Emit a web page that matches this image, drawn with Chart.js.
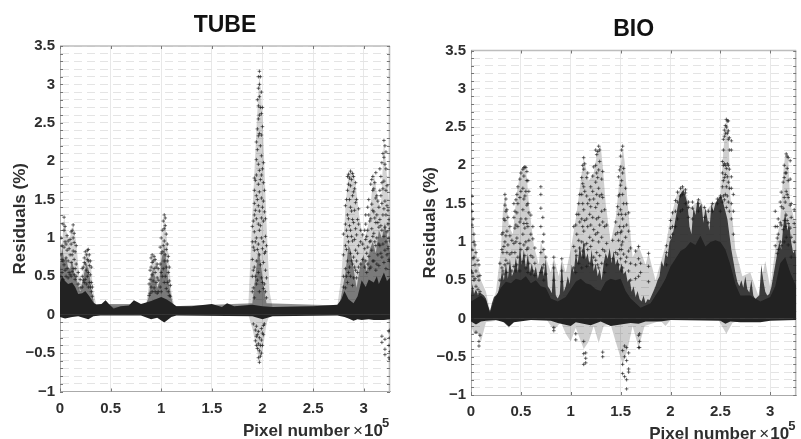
<!DOCTYPE html>
<html>
<head>
<meta charset="utf-8">
<script src="https://cdn.jsdelivr.net/npm/chart.js@4"></script>
<style>
    html, body { margin: 0; padding: 0; background: #fff; overflow: hidden; }
    .panel { position: absolute; top: 0; height: 439px; }
    #tubePanel { left: 0; width: 400px; }
    #bioPanel { left: 411px; width: 390px; }
</style>
</head>
<body>
<div class="panel" id="tubePanel"><canvas id="tubeChart"></canvas></div>
<div class="panel" id="bioPanel"><canvas id="bioChart"></canvas></div>
<script>
// values, x is in units of 1e5 pixels
const xTicks = [0, 0.5, 1, 1.5, 2, 2.5, 3];

// TUBE: solid band
const tubeCoreX = [0, 0.02, 0.05, 0.08, 0.12, 0.15, 0.18, 0.22, 0.25, 0.29, 0.33, 0.36, 0.41, 0.45, 0.49, 0.53, 0.6, 0.68, 0.73, 0.8, 0.9, 1.0, 1.05, 1.1, 1.15, 1.3, 1.5, 1.6, 1.65, 1.72, 1.9, 2.0, 2.1, 2.5, 2.74, 2.78, 2.81, 2.85, 2.9, 2.94, 2.98, 3.02, 3.05, 3.1, 3.13, 3.15, 3.2, 3.23, 3.26];
const tubeCoreHigh = [0.42, 0.5, 0.44, 0.4, 0.42, 0.36, 0.27, 0.28, 0.31, 0.24, 0.16, 0.13, 0.14, 0.19, 0.13, 0.08, 0.11, 0.12, 0.19, 0.14, 0.18, 0.23, 0.2, 0.16, 0.11, 0.11, 0.14, 0.1, 0.15, 0.11, 0.13, 0.11, 0.1, 0.11, 0.13, 0.2, 0.31, 0.2, 0.15, 0.24, 0.45, 0.36, 0.46, 0.42, 0.5, 0.4, 0.55, 0.44, 0.48];
const tubeCoreLowX = [0, 0.05, 0.12, 0.18, 0.28, 0.33, 0.4, 0.8, 0.9, 0.96, 1.03, 1.1, 1.15, 1.9, 2.0, 2.1, 2.74, 2.81, 2.85, 2.9, 2.94, 2.98, 3.05, 3.1, 3.2, 3.26];
const tubeCoreLow = [-0.03, -0.05, -0.03, -0.02, -0.06, -0.02, -0.01, -0.01, -0.06, -0.04, -0.1, -0.03, -0.01, -0.02, -0.06, -0.02, -0.01, -0.03, -0.05, -0.08, -0.06, -0.07, -0.06, -0.07, -0.07, -0.06];

// TUBE: darker part of the clouds
const tubeDenseX = [0, 0.02, 0.04, 0.06, 0.08, 0.1, 0.12, 0.14, 0.16, 0.18, 0.2, 0.22, 0.24, 0.26, 0.28, 0.3, 0.32, 0.34, 0.85, 0.88, 0.9, 0.92, 0.94, 0.96, 0.98, 1.0, 1.03, 1.05, 1.07, 1.1, 1.12, 1.9, 1.93, 1.96, 1.98, 2.01, 2.04, 2.76, 2.79, 2.82, 2.85, 2.87, 2.9, 2.93, 2.96, 3.0, 3.03, 3.06, 3.09, 3.12, 3.15, 3.18, 3.21, 3.24, 3.26];
const tubeDenseHigh = [0.6, 0.9, 0.72, 0.75, 0.62, 0.6, 0.72, 0.55, 0.48, 0.38, 0.3, 0.42, 0.55, 0.66, 0.6, 0.45, 0.24, 0.14, 0.14, 0.24, 0.52, 0.6, 0.48, 0.35, 0.42, 0.7, 0.9, 0.7, 0.45, 0.22, 0.11, 0.15, 0.5, 0.85, 0.7, 0.4, 0.15, 0.12, 0.33, 0.55, 0.9, 0.85, 0.6, 0.35, 0.6, 0.78, 0.55, 0.85, 0.95, 0.8, 1.1, 1.0, 1.2, 0.95, 0.8];

// TUBE: outline of the loose clouds
const tubeCloudX = [0, 0.02, 0.04, 0.06, 0.08, 0.1, 0.13, 0.16, 0.19, 0.21, 0.24, 0.27, 0.3, 0.33, 0.36, 0.85, 0.88, 0.92, 0.95, 0.98, 1.03, 1.07, 1.1, 1.13, 1.86, 1.9, 1.94, 1.97, 2.0, 2.04, 2.07, 2.1, 2.74, 2.78, 2.82, 2.85, 2.87, 2.9, 2.92, 2.96, 3.0, 3.05, 3.1, 3.14, 3.17, 3.2, 3.23, 3.26];
const tubeCloudHigh = [0.4, 0.9, 1.27, 1.1, 1.0, 1.02, 1.17, 0.95, 0.5, 0.4, 0.7, 0.85, 0.7, 0.3, 0.12, 0.12, 0.4, 0.78, 0.7, 0.6, 1.3, 0.8, 0.3, 0.1, 0.1, 1.3, 2.4, 3.17, 2.6, 1.2, 0.3, 0.1, 0.12, 0.5, 1.4, 1.84, 1.87, 1.85, 1.7, 1.25, 0.95, 1.2, 1.85, 1.5, 1.4, 2.27, 1.8, 1.2];
const tubeCloudLowX = [1.86, 1.9, 1.94, 1.97, 2.0, 2.04, 2.07];
const tubeCloudLow = [0, -0.18, -0.42, -0.63, -0.48, -0.12, 0];

// TUBE: single markers, one list of residuals per x position
const tubeMarkX = [0.01, 0.02, 0.03, 0.04, 0.05, 0.06, 0.07, 0.08, 0.09, 0.1, 0.11, 0.12, 0.13, 0.14, 0.15, 0.16, 0.18, 0.2, 0.22, 0.23, 0.24, 0.25, 0.26, 0.27, 0.28, 0.29, 0.3, 0.31, 0.32,
    0.88, 0.89, 0.9, 0.91, 0.92, 0.93, 0.94, 0.95, 0.96, 0.97, 0.99, 1.0, 1.01, 1.02, 1.03, 1.04, 1.05, 1.06, 1.07, 1.08, 1.09,
    1.9, 1.91, 1.92, 1.93, 1.94, 1.95, 1.96, 1.97, 1.98, 1.99, 2.0, 2.01, 2.02, 2.03, 2.04,
    2.8, 2.82, 2.83, 2.84, 2.85, 2.86, 2.87, 2.88, 2.89, 2.9, 2.91, 2.92, 2.93, 2.94, 2.95, 2.97, 2.99, 3.01, 3.02, 3.03, 3.04, 3.05, 3.06, 3.07, 3.08, 3.09, 3.1, 3.11, 3.12, 3.13, 3.14, 3.15, 3.16, 3.17, 3.18, 3.19, 3.2, 3.21, 3.22, 3.23, 3.24, 3.25, 3.26,
    3.18, 3.21, 3.25, 3.26];
const tubeMarkY = [
    [0.5, 0.78, 1.0], [0.55, 0.72, 0.9], [0.46, 0.7, 1.18], [0.65, 0.88, 1.1, 1.27], [0.58, 0.95, 1.15], [0.5, 0.74, 0.92], [0.6, 0.84, 1.03], [0.48, 0.7, 0.96], [0.55, 0.86], [0.52, 0.78, 0.98], [0.5, 0.68, 0.92, 1.08], [0.56, 0.78, 1.1], [0.6, 0.83, 1.0, 1.17], [0.52, 0.72, 0.94, 1.06], [0.46, 0.6, 0.82], [0.5, 0.66, 0.9], [0.4, 0.55], [0.35, 0.46], [0.36, 0.5, 0.6], [0.45, 0.62], [0.42, 0.68, 0.74], [0.46, 0.66, 0.82], [0.4, 0.58, 0.78], [0.5, 0.72, 0.84], [0.36, 0.55, 0.7, 0.85], [0.42, 0.64, 0.78], [0.36, 0.52, 0.7], [0.3, 0.42, 0.62], [0.24, 0.36],
    [0.25, 0.4], [0.28, 0.46, 0.58], [0.36, 0.62, 0.74], [0.3, 0.52, 0.68, 0.78], [0.44, 0.7], [0.35, 0.6, 0.76], [0.3, 0.55, 0.72], [0.42, 0.62], [0.28, 0.48, 0.66], [0.3, 0.45, 0.6], [0.36, 0.66, 0.88], [0.3, 0.55, 0.8, 1.0], [0.5, 0.82, 1.1], [0.6, 0.9, 1.22], [0.42, 0.7, 0.96, 1.12, 1.3], [0.5, 0.78, 1.16, 1.26], [0.34, 0.62, 0.85, 1.05], [0.42, 0.7, 0.92], [0.3, 0.55, 0.76], [0.25, 0.44, 0.62], [0.24, 0.38],
    [0.3, 0.5, 0.72, 0.95, 1.15], [0.35, 0.58, 0.88, 1.22, -0.12], [0.22, 0.62, 0.84, 1.08, 1.3, 1.45, 1.62, 1.78], [0.5, 0.95, 1.36, 1.75, -0.2, -0.34], [0.4, 0.7, 1.0, 1.25, 1.55, 1.82, 2.02, 2.25, -0.15, -0.28, -0.4], [0.45, 0.85, 1.5, 2.15, 2.42, 2.8, -0.26, -0.44], [0.55, 0.92, 1.18, 1.42, 1.7, 1.96, 2.33, 2.55, 2.72, 2.95, 3.1, -0.22, -0.38, -0.56], [0.3, 0.78, 1.1, 1.35, 1.6, 1.88, 2.36, 2.6, 2.84, 3.0, 3.17, -0.3, -0.47, -0.62], [0.65, 1.16, 1.76, 2.2, 2.7, 3.1, -0.4, -0.54], [0.48, 1.0, 1.26, 1.52, 1.82, 2.07, 2.34, 2.62, 2.9, -0.18, -0.33, -0.5], [0.42, 0.86, 1.4, 1.9, 2.45, 2.7, -0.24, -0.4], [0.34, 0.68, 0.95, 1.22, 1.48, 1.72, 1.98, -0.14, -0.26], [0.4, 0.8, 1.34, 1.62, -0.12], [0.3, 0.58, 0.82, 1.02, 1.25], [0.22, 0.48, 0.9],
    [0.36, 0.5, 0.78, 1.05], [0.35, 0.6, 0.9, 1.18, 1.42], [0.5, 0.85, 1.1, 1.5], [0.42, 0.7, 1.02, 1.3, 1.62, 1.8], [0.55, 0.95, 1.25, 1.7, 1.83], [0.62, 1.16, 1.5, 1.78], [0.5, 0.8, 1.1, 1.4, 1.68, 1.87], [0.7, 1.02, 1.35, 1.76], [0.38, 0.66, 0.96, 1.24, 1.55, 1.84], [0.48, 0.75, 1.2, 1.6, 1.8], [0.62, 0.98, 1.36, 1.64], [0.58, 0.84, 1.12, 1.46, 1.72], [0.48, 0.7, 1.04, 1.5], [0.55, 0.8, 1.24], [0.62, 0.9, 1.18, 1.38], [0.66, 0.95, 1.1], [0.72, 0.92, 1.04], [0.62, 0.86, 1.1], [0.7, 0.98, 1.18, 1.3], [0.55, 0.8, 1.02], [0.66, 0.88, 1.1, 1.4], [0.76, 1.3, 1.5], [0.6, 0.95, 1.22], [0.62, 0.96, 1.25, 1.7], [0.84, 1.12, 1.44, 1.76], [0.7, 1.02, 1.36, 1.62, 1.8], [0.7, 1.06, 1.34, 1.64], [0.95, 1.26, 1.72], [0.58, 0.9, 1.2, 1.52, 1.85], [0.66, 1, 1.3, 1.55], [0.78, 1.2, 1.48], [0.64, 0.92, 1.14, 1.4], [0.9, 1.24, 1.62, 1.9], [0.8, 1.16, 1.55, 1.8], [0.75, 1.1, 1.45, 1.72, 1.98], [0.92, 1.3, 1.64, 2.1], [0.68, 1.02, 1.38, 1.74, 2.05, 2.27], [0.84, 1.14, 1.48, 1.96, 2.2], [0.6, 0.95, 1.3, 1.62, 1.9, 2.12], [0.78, 1.08, 1.42, 1.68], [0.86, 1.18, 1.36], [0.72, 1.0, 1.24], [0.7, 0.96, 1.12],
    [-0.28, -0.36], [-0.32, -0.45, -0.52], [-0.22, -0.4, -0.56], [-0.2, -0.3, -0.48, -0.58]
];

// BIO: solid band
const bioCoreX = [0, 0.05, 0.1, 0.15, 0.19, 0.24, 0.3, 0.35, 0.4, 0.45, 0.5, 0.55, 0.6, 0.65, 0.7, 0.75, 0.8, 0.87, 0.95, 1.0, 1.05, 1.1, 1.15, 1.2, 1.25, 1.3, 1.35, 1.4, 1.45, 1.5, 1.55, 1.6, 1.7, 1.8, 1.9, 1.95, 2.0, 2.05, 2.1, 2.15, 2.2, 2.25, 2.3, 2.35, 2.4, 2.45, 2.5, 2.55, 2.6, 2.65, 2.7, 2.8, 2.9, 3.0, 3.05, 3.1, 3.15, 3.2, 3.26];
const bioCoreHigh = [0.22, 0.26, 0.3, 0.24, 0.07, 0.27, 0.4, 0.48, 0.46, 0.52, 0.5, 0.55, 0.46, 0.5, 0.42, 0.4, 0.26, 0.22, 0.28, 0.38, 0.48, 0.52, 0.46, 0.44, 0.38, 0.36, 0.48, 0.52, 0.5, 0.52, 0.36, 0.26, 0.14, 0.2, 0.4, 0.52, 0.68, 0.78, 0.88, 0.92, 1.0, 0.96, 1.08, 0.94, 1.0, 1.02, 1.0, 0.9, 0.7, 0.45, 0.3, 0.3, 0.22, 0.28, 0.42, 0.72, 0.8, 0.6, 0.42];
const bioCoreLowX = [0, 0.05, 0.1, 0.15, 0.25, 0.33, 0.38, 0.43, 0.6, 0.8, 0.87, 1.0, 1.05, 1.2, 1.3, 1.4, 1.5, 1.6, 1.68, 1.75, 1.9, 2.0, 2.5, 2.55, 2.6, 2.7, 2.8, 2.9, 3.0, 3.26];
const bioCoreLow = [-0.04, -0.08, -0.04, -0.03, -0.02, -0.05, -0.11, -0.05, -0.02, -0.03, -0.06, -0.1, -0.05, -0.09, -0.04, -0.1, -0.08, -0.06, -0.07, -0.04, -0.04, -0.02, -0.03, -0.07, -0.04, -0.05, -0.05, -0.05, -0.03, -0.02];

// BIO: darker part of the clouds
const bioDenseX = [0, 0.015, 0.03, 0.05, 0.07, 0.09, 0.11, 0.13, 0.15, 0.17, 0.19, 0.21, 0.23, 0.25, 0.27, 0.29, 0.31, 0.33, 0.35, 0.37, 0.39, 0.41, 0.43, 0.45, 0.47, 0.49, 0.51, 0.53, 0.55, 0.57, 0.59, 0.61, 0.63, 0.65, 0.67, 0.69, 0.71, 0.73, 0.75, 0.77, 0.79, 0.81, 0.83, 0.85, 0.87, 0.89, 0.91, 0.93, 0.95, 0.97, 0.99, 1.01, 1.03, 1.05, 1.07, 1.09, 1.11, 1.13, 1.15, 1.17, 1.19, 1.21, 1.23, 1.25, 1.27, 1.29, 1.31, 1.33, 1.35, 1.37, 1.39, 1.41, 1.43, 1.45, 1.47, 1.49, 1.51, 1.53, 1.55, 1.57, 1.59, 1.61, 1.63, 1.65, 1.67, 1.69, 1.71, 1.73, 1.75, 1.77, 1.79, 1.81, 1.83, 1.85, 1.87, 1.89, 1.91, 1.93, 1.95, 1.97, 1.99, 2.01, 2.03, 2.05, 2.07, 2.09, 2.11, 2.13, 2.15, 2.17, 2.19, 2.21, 2.23, 2.25, 2.27, 2.29, 2.31, 2.33, 2.35, 2.37, 2.39, 2.41, 2.43, 2.45, 2.47, 2.49, 2.51, 2.53, 2.55, 2.57, 2.59, 2.61, 2.63, 2.65, 2.67, 2.69, 2.71, 2.73, 2.75, 2.77, 2.79, 2.81, 2.83, 2.85, 2.87, 2.89, 2.91, 2.93, 2.95, 2.97, 2.99, 3.01, 3.03, 3.05, 3.07, 3.09, 3.11, 3.13, 3.15, 3.17, 3.19, 3.21, 3.23, 3.25, 3.26];
const bioDenseHigh = [0.3, 0.45, 0.32, 0.38, 0.3, 0.34, 0.32, 0.3, 0.26, 0.17, 0.09, 0.2, 0.28, 0.3, 0.33, 0.44, 0.62, 0.5, 0.72, 0.52, 0.78, 0.55, 0.62, 0.8, 0.6, 0.95, 0.7, 0.9, 0.65, 0.85, 0.6, 0.72, 0.58, 0.68, 0.52, 0.62, 0.7, 0.55, 0.78, 0.42, 0.38, 0.33, 0.75, 0.3, 0.26, 0.32, 0.74, 0.35, 0.42, 0.55, 0.45, 0.7, 0.6, 0.85, 0.72, 0.95, 0.8, 1.02, 0.78, 0.85, 0.68, 0.9, 0.62, 0.72, 0.55, 0.65, 0.5, 0.72, 0.85, 0.78, 0.92, 0.72, 0.88, 0.7, 0.78, 0.62, 0.72, 0.58, 0.62, 0.48, 0.52, 0.35, 0.42, 0.28, 0.36, 0.25, 0.22, 0.3, 0.2, 0.25, 0.24, 0.3, 0.36, 0.42, 0.5, 0.55, 0.75, 0.68, 0.85, 0.8, 1.0, 1.05, 1.15, 1.3, 1.45, 1.6, 1.65, 1.68, 1.6, 1.5, 1.2, 1.1, 1.45, 1.35, 1.55, 1.45, 1.5, 1.25, 1.45, 1.3, 1.15, 1.5, 1.4, 1.5, 1.55, 1.58, 1.6, 1.5, 1.4, 1.3, 1.1, 0.9, 0.75, 0.6, 0.48, 0.42, 0.5, 0.4, 0.55, 0.38, 0.34, 0.5, 0.3, 0.25, 0.28, 0.3, 0.7, 0.5, 0.35, 0.3, 0.32, 0.4, 0.55, 0.7, 0.85, 1.0, 0.9, 1.2, 1.4, 1.15, 1.25, 1.0, 0.85, 0.9, 0.75];

// BIO: outline of the loose clouds
const bioCloudX = [0, 0.03, 0.07, 0.1, 0.15, 0.19, 0.25, 0.3, 0.32, 0.34, 0.36, 0.38, 0.42, 0.44, 0.46, 0.5, 0.54, 0.56, 0.58, 0.63, 0.68, 0.7, 0.75, 0.8, 0.83, 0.88, 0.91, 0.95, 1.0, 1.05, 1.08, 1.13, 1.18, 1.23, 1.27, 1.3, 1.32, 1.35, 1.4, 1.45, 1.48, 1.52, 1.54, 1.57, 1.62, 1.68, 1.75, 1.78, 1.85, 1.95, 2.0, 2.07, 2.13, 2.2, 2.3, 2.35, 2.42, 2.5, 2.53, 2.56, 2.58, 2.6, 2.65, 2.72, 2.8, 2.88, 2.95, 3.0, 3.05, 3.1, 3.13, 3.15, 3.18, 3.2, 3.26];
const bioCloudHigh = [1.6, 1.1, 0.7, 0.5, 0.35, 0.1, 0.35, 0.9, 1.4, 1.62, 1.45, 1.2, 1.1, 1.4, 1.65, 1.95, 1.98, 1.85, 1.5, 0.95, 0.7, 1.0, 0.8, 0.6, 0.8, 0.55, 0.78, 0.6, 0.9, 1.3, 1.6, 2.1, 1.8, 1.9, 2.2, 2.25, 2.0, 1.5, 1.0, 1.3, 1.7, 2.25, 2.05, 1.5, 0.8, 0.95, 0.7, 0.85, 0.5, 0.95, 1.3, 1.65, 1.72, 1.45, 1.55, 1.4, 1.5, 1.55, 2.2, 2.6, 2.5, 1.6, 0.9, 0.55, 0.6, 0.3, 0.75, 0.4, 0.9, 1.3, 1.9, 2.15, 2.1, 1.5, 1.2];
const bioCloudLowX = [0, 0.03, 0.07, 0.1, 0.15, 0.3, 0.38, 0.45, 0.76, 0.83, 0.9, 0.95, 1.0, 1.05, 1.13, 1.18, 1.23, 1.28, 1.33, 1.4, 1.45, 1.52, 1.57, 1.62, 1.68, 1.74, 1.9, 1.95, 2.0, 2.48, 2.56, 2.62, 2.7];
const bioCloudLow = [-0.1, -0.2, -0.2, -0.3, -0.05, -0.02, -0.12, -0.02, -0.02, -0.15, -0.05, -0.2, -0.3, -0.12, -0.4, -0.3, -0.1, -0.32, -0.1, -0.08, -0.3, -0.6, -0.4, -0.1, -0.38, -0.1, -0.03, -0.1, -0.02, -0.02, -0.2, -0.06, -0.02];

// BIO: single markers, one list of residuals per x position
const bioMarkX = [0.005, 0.01, 0.02, 0.03, 0.04, 0.05, 0.07, 0.08, 0.09, 0.29, 0.31, 0.32, 0.33, 0.34, 0.35, 0.36, 0.37, 0.39, 0.41, 0.43, 0.44, 0.45, 0.46, 0.47, 0.49, 0.5, 0.52, 0.53, 0.54, 0.55, 0.56, 0.57, 0.58, 0.6, 0.62, 0.64, 0.7, 0.72, 0.73, 0.75, 0.83, 0.91,
    1.03, 1.05, 1.06, 1.08, 1.09, 1.11, 1.12, 1.13, 1.14, 1.16, 1.17, 1.19, 1.2, 1.22, 1.23, 1.25, 1.26, 1.27, 1.28, 1.29, 1.31, 1.32, 1.34, 1.36, 1.42, 1.45, 1.47, 1.48, 1.49, 1.5, 1.51, 1.52, 1.53, 1.55, 1.56, 1.58, 1.6, 1.65, 1.68, 1.7, 1.78, 1.96,
    2.0, 2.02, 2.05, 2.07, 2.1, 2.12, 2.15, 2.18, 2.22, 2.28, 2.34, 2.38, 2.42, 2.47, 2.5, 2.52, 2.53, 2.54, 2.55, 2.56, 2.57, 2.58, 2.59, 2.61, 2.63,
    3.05, 3.07, 3.08, 3.1, 3.11, 3.13, 3.14, 3.15, 3.16, 3.17, 3.18, 3.2, 3.21, 3.24, 1.51, 1.52, 1.54, 1.56, 1.58, 1.13, 1.15, 1.32, 1.68, 1.69];
const bioMarkY = [
    [0.62, 1.5], [0.6, 0.9, 1.22, 1.4, 1.6], [0.55, 0.78, 1.3], [0.5, 0.8, 1.0, 1.1], [0.52, 0.7, 0.96], [0.42, 0.62, 0.86, -0.18], [0.38, 0.55, 0.76], [0.32, 0.5, 0.7, -0.3, -0.36], [0.35, 0.56, -0.22],
    [0.5, 0.72], [0.66, 0.9, 1.1], [0.62, 0.86, 1.12], [0.58, 0.94, 1.3], [0.7, 1.0, 1.28, 1.48, 1.62], [0.76, 1.08, 1.4, 1.56], [0.6, 0.86, 1.14, 1.42], [0.72, 0.96, 1.32], [0.84, 1.08, 1.2], [0.62, 0.86, 1.02], [0.68, 0.98, 1.32, 1.5], [0.86, 1.18, 1.4], [0.62, 1.0, 1.22, 1.55], [0.7, 1.05, 1.38, 1.62], [0.8, 1.2, 1.5, 1.72], [0.62, 0.98, 1.26, 1.58, 1.82], [0.9, 1.3, 1.66, 1.9], [0.74, 1.1, 1.42, 1.7, 1.95], [0.96, 1.24, 1.56, 1.86, 1.97], [0.82, 1.18, 1.6, 1.98], [0.66, 1.0, 1.3, 1.66, 1.97], [0.9, 1.24, 1.48, 1.8, 1.92], [0.6, 0.92, 1.2, 1.5, 1.8], [0.72, 1.02, 1.38, 1.66], [0.58, 0.82, 1.1, 1.35], [0.62, 0.8, 1.04, 1.2], [0.56, 0.72, 0.92], [0.6, 0.86, 1.2, 1.44, 1.62, 1.72], [0.66, 1.0, 1.32], [0.5, 0.7, 0.9, 1.1], [0.58, 0.8], [0.5, 0.66, 0.8, -0.12, -0.16], [0.48, 0.62, 0.78],
    [0.66, 0.94, 1.2], [0.6, 0.88, 1.22, -0.2, -0.28], [0.82, 1.1, 1.36], [0.72, 1.02, 1.36, 1.5], [0.92, 1.26, 1.62], [0.66, 1.0, 1.3, 1.62, 1.84], [0.88, 1.2, 1.5, 1.76, 2.0], [0.8, 1.14, 1.42, 1.72, 1.95, 2.1], [0.96, 1.28, 1.66, 2.02], [0.68, 0.98, 1.3, 1.6, 1.84], [0.9, 1.2, 1.5, 1.9], [0.72, 1.06, 1.36, 1.55], [0.94, 1.22, 1.46, 1.72], [0.7, 1.02, 1.32, 1.66, 1.86], [0.8, 1.16, 1.56, 1.98], [0.76, 1.1, 1.45, 1.78, 2.0, 2.2], [0.86, 1.3, 1.62, 1.9, 2.14], [0.7, 1.12, 1.5, 1.84, 2.18], [0.66, 1.0, 1.32, 1.7, 1.94, 2.25], [0.82, 1.22, 1.6, 2.05, 2.2], [0.72, 1.06, 1.4, 1.62, 1.82], [0.9, 1.26, 1.58, 1.92], [0.6, 0.88, 1.2, 1.42], [0.7, 0.98, 1.22], [0.78, 1.02], [0.86, 1.1, 1.26], [0.84, 1.12, 1.46], [0.7, 1.02, 1.36, 1.6, 1.85], [0.9, 1.2, 1.62, 1.94], [0.78, 1.12, 1.42, 1.74, 1.98, 2.12], [0.96, 1.36, 1.8, 2.2], [0.66, 1.0, 1.3, 1.62, 1.9, 2.25], [0.84, 1.2, 1.5, 1.96], [0.74, 1.06, 1.36, 1.7], [0.8, 1.22, 1.5], [0.62, 0.88, 1.14, 1.38], [0.5, 0.72, 0.92], [0.52, 0.7, 0.88], [0.55, 0.78, 0.94], [0.6, 0.72], [0.48, 0.68, 0.85], [0.7, 0.86, 0.95],
    [1.06, 1.18, 1.28], [1.1, 1.2, 1.38], [1.2, 1.4, 1.54], [1.3, 1.52, 1.65], [1.4, 1.6, 1.7], [1.42, 1.62, 1.72], [1.5, 1.64, 1.68], [1.32, 1.45, 1.52], [1.3, 1.44, 1.52], [1.4, 1.5, 1.55], [1.32, 1.45], [1.25, 1.4], [1.4, 1.5], [1.5, 1.56], [1.4, 1.58, 1.6],
    [1.52, 1.72, 1.9, 2.05], [1.6, 1.8, 2.0, 2.2, 2.34], [1.55, 1.84, 2.02, 2.38, 2.46], [1.62, 1.88, 2.0, 2.42, 2.52], [1.45, 1.72, 1.96, 2.5, 2.6], [1.6, 1.85, 2.02, 2.42, 2.58], [1.52, 1.78, 2.0, 2.34, 2.45, 2.58], [1.4, 1.7, 1.95, 2.2, 2.36], [1.3, 1.5, 1.7, 1.85, 2.2, 2.32], [1.1, 1.4, 1.62], [0.95, 1.2, 1.4],
    [0.85, 1.05, 1.2], [0.9, 1.1, 1.3], [1.0, 1.25, 1.52], [0.95, 1.22, 1.46, 1.65], [1.16, 1.44, 1.78], [1.0, 1.28, 1.58, 1.84, 2.0], [1.2, 1.52, 1.9], [1.06, 1.35, 1.66, 1.9, 2.15], [1.28, 1.62, 1.96, 2.12], [0.96, 1.24, 1.58, 1.8, 2.1], [1.18, 1.48, 1.82, 2.06], [0.8, 1.06, 1.32, 1.5], [1.0, 1.24, 1.42], [0.62, 0.9, 1.14],
    [-0.42, -0.6, -0.72], [-0.36, -0.5, -0.76], [-0.38, -0.55, -0.8, -0.92], [-0.45, -0.66, -0.7], [-0.3, -0.46, -0.6], [-0.45, -0.52, -0.58], [-0.44, -0.5], [-0.22, -0.38], [-0.2, -0.3, -0.38], [-0.24, -0.34]
];

const inkColor = '#222222';
const labelColor = '#2e2e2e';
const fontFamily = '"Liberation Sans", Arial, sans-serif';

function toPoints(xs, ys) {
    return xs.map((x, i) => ({ x: x, y: ys[i] }));
}

function markPoints(xs, columns) {
    return xs.flatMap((x, i) => columns[i].map(y => ({ x: x, y: y })));
}

function yLabel(value) {
    const doubled = value * 2;
    if (Math.abs(doubled - Math.round(doubled)) > 1e-6) return '';
    const rounded = Math.round(doubled) / 2;
    return rounded < 0 ? '\u2212' + Math.abs(rounded) : String(rounded);
}

// one filled area from the zero line up or down to the read values
function area(label, xs, ys, color, order) {
    return {
        label: label,
        data: toPoints(xs, ys),
        borderWidth: 0,
        pointRadius: 0,
        tension: 0,
        backgroundColor: color,
        fill: { value: 0 },
        order: order
    };
}

// small inward ticks on all four sides, plus the top and right frame
const frameTicks = {
    id: 'frameTicks',
    beforeDatasetsDraw(chart) {
        const { ctx, chartArea, scales } = chart;
        ctx.save();
        ctx.strokeStyle = '#bdbdbd';
        ctx.lineWidth = 1.6;
        ctx.beginPath();
        ctx.moveTo(chartArea.left, chartArea.top);
        ctx.lineTo(chartArea.right, chartArea.top);
        ctx.moveTo(chartArea.right - 0.5, chartArea.top);
        ctx.lineTo(chartArea.right - 0.5, chartArea.bottom);
        ctx.stroke();
        ctx.strokeStyle = '#777777';
        ctx.lineWidth = 1;
        ctx.beginPath();
        scales.y.ticks.forEach(tick => {
            const py = Math.round(scales.y.getPixelForValue(tick.value)) + 0.5;
            ctx.moveTo(chartArea.left, py);
            ctx.lineTo(chartArea.left + 3, py);
            ctx.moveTo(chartArea.right, py);
            ctx.lineTo(chartArea.right - 3, py);
        });
        scales.x.ticks.forEach(tick => {
            const px = Math.round(scales.x.getPixelForValue(tick.value)) + 0.5;
            ctx.moveTo(px, chartArea.top);
            ctx.lineTo(px, chartArea.top + 3);
            ctx.moveTo(px, chartArea.bottom);
            ctx.lineTo(px, chartArea.bottom - 3);
        });
        ctx.stroke();
        ctx.restore();
    }
};

// x label with the raised exponent
const xLabel = {
    id: 'xLabel',
    afterDraw(chart) {
        const { ctx, chartArea } = chart;
        const opts = chart.options.plugins.xLabel;
        ctx.save();
        ctx.fillStyle = labelColor;
        ctx.textBaseline = 'alphabetic';
        ctx.textAlign = 'left';
        ctx.font = 'bold 17px ' + fontFamily;
        ctx.fillText('Pixel number', chartArea.right - 147, opts.baseline);
        ctx.font = '17px ' + fontFamily;
        ctx.fillText('\u00d7', chartArea.right - 37, opts.baseline);
        ctx.font = 'bold 17px ' + fontFamily;
        ctx.fillText('10', chartArea.right - 26, opts.baseline);
        ctx.font = 'bold 13px ' + fontFamily;
        ctx.fillText('5', chartArea.right - 8, opts.baseline - 9);
        ctx.restore();
    }
};

function drawPanel(canvasId, setup) {
    const ctx = document.getElementById(canvasId).getContext('2d');
    return new Chart(ctx, {
        type: 'line',
        data: {
            datasets: [
                area('band high', setup.coreX, setup.coreHigh, inkColor, 2),
                area('band low', setup.coreLowX, setup.coreLow, inkColor, 2),
                area('dense', setup.denseX, setup.denseHigh, setup.denseColor, 3),
                area('cloud high', setup.cloudX, setup.cloudHigh, setup.cloudColor, 4),
                area('cloud low', setup.cloudLowX, setup.cloudLow, setup.cloudColor, 4),
                {
                    label: 'residuals',
                    data: markPoints(setup.markX, setup.markY),
                    showLine: false,
                    pointStyle: 'cross',
                    pointRadius: 1.8,
                    pointBorderWidth: 0.8,
                    pointBorderColor: 'rgba(25, 25, 25, 0.8)',
                    order: 1
                }
            ]
        },
        options: {
            responsive: true,
            maintainAspectRatio: false,
            animation: false,
            layout: { padding: { right: setup.rightPad, left: 0, top: 0, bottom: 0 } },
            plugins: {
                legend: { display: false },
                tooltip: { enabled: false },
                title: {
                    display: true,
                    text: setup.title,
                    fullSize: false,
                    color: '#111111',
                    font: { family: fontFamily, size: 23, weight: 'bold', lineHeight: 1.2 },
                    padding: setup.titlePad
                },
                xLabel: { baseline: setup.xBaseline }
            },
            scales: {
                x: {
                    type: 'linear',
                    min: 0,
                    max: 3.26,
                    afterFit: scale => { scale.height = setup.xHeight; },
                    afterBuildTicks: scale => { scale.ticks = xTicks.map(v => ({ value: v })); },
                    grid: { color: '#e8e8e8', lineWidth: 1, drawTicks: false },
                    border: { color: '#aaaaaa', width: 1 },
                    ticks: {
                        color: labelColor,
                        padding: 8,
                        maxRotation: 0,
                        autoSkip: false,
                        font: { family: fontFamily, size: 15, weight: 'bold' },
                        callback: value => String(value)
                    }
                },
                y: {
                    type: 'linear',
                    min: -1,
                    max: 3.5,
                    afterFit: scale => { scale.width = 60; },
                    grid: { color: '#e4e4e4', lineWidth: 1, drawTicks: false },
                    border: { color: '#aaaaaa', width: 1, dash: [8, 5] },
                    title: {
                        display: true,
                        text: 'Residuals (%)',
                        color: labelColor,
                        font: { family: fontFamily, size: 17, weight: 'bold', lineHeight: 1.2 },
                        padding: { top: setup.yTitlePad, bottom: 0 }
                    },
                    ticks: {
                        stepSize: 0.1,
                        autoSkip: false,
                        color: labelColor,
                        padding: 5,
                        font: { family: fontFamily, size: 15, weight: 'bold' },
                        callback: yLabel
                    }
                }
            }
        },
        plugins: [frameTicks, xLabel]
    });
}

drawPanel('tubeChart', {
    title: 'TUBE',
    titlePad: { top: 12, bottom: 6.4 },
    xHeight: 47.5,
    xBaseline: 436,
    rightPad: 10,
    yTitlePad: 10,
    denseColor: 'rgba(34, 34, 34, 0.5)',
    cloudColor: 'rgba(34, 34, 34, 0.2)',
    coreX: tubeCoreX, coreHigh: tubeCoreHigh, coreLowX: tubeCoreLowX, coreLow: tubeCoreLow,
    denseX: tubeDenseX, denseHigh: tubeDenseHigh,
    cloudX: tubeCloudX, cloudHigh: tubeCloudHigh, cloudLowX: tubeCloudLowX, cloudLow: tubeCloudLow,
    markX: tubeMarkX, markY: tubeMarkY
});

drawPanel('bioChart', {
    title: 'BIO',
    titlePad: { top: 16, bottom: 6.9 },
    xHeight: 44,
    xBaseline: 439,
    rightPad: 0,
    yTitlePad: 9,
    denseColor: 'rgba(34, 34, 34, 0.85)',
    cloudColor: 'rgba(34, 34, 34, 0.22)',
    coreX: bioCoreX, coreHigh: bioCoreHigh, coreLowX: bioCoreLowX, coreLow: bioCoreLow,
    denseX: bioDenseX, denseHigh: bioDenseHigh,
    cloudX: bioCloudX, cloudHigh: bioCloudHigh, cloudLowX: bioCloudLowX, cloudLow: bioCloudLow,
    markX: bioMarkX, markY: bioMarkY
});
</script>
</body>
</html>
